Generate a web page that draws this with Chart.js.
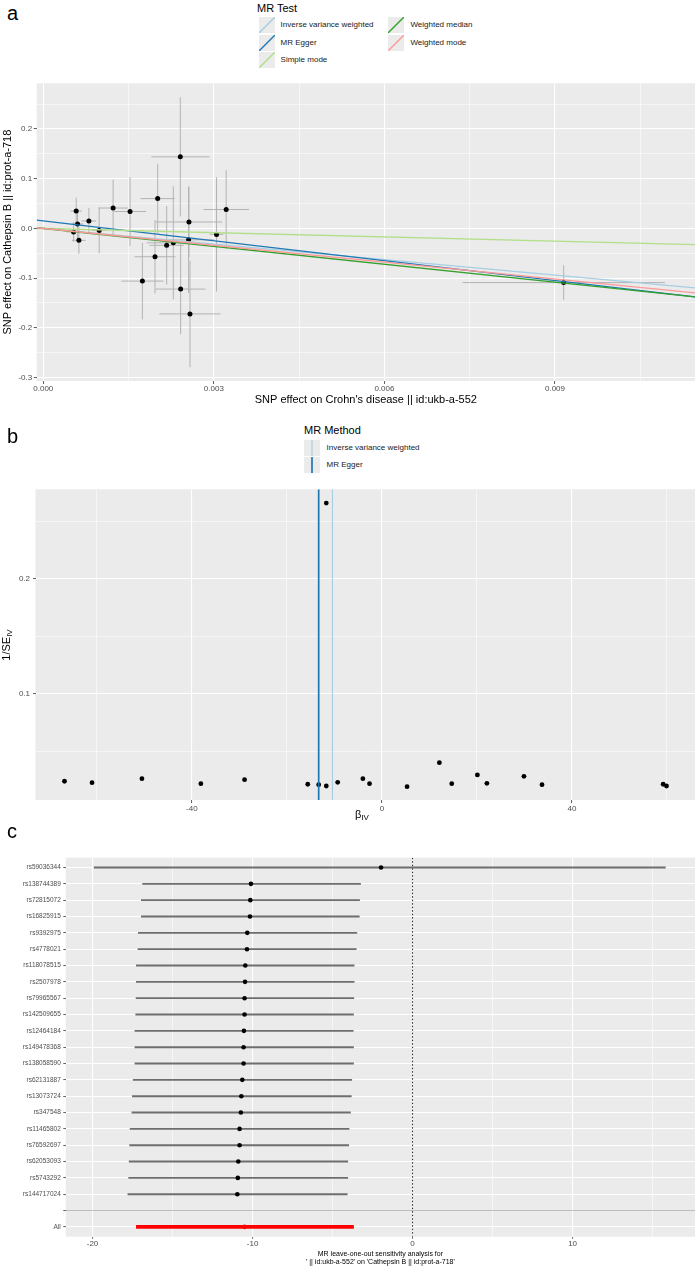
<!DOCTYPE html>
<html>
<head>
<meta charset="utf-8">
<title>MR plots</title>
<script src="https://cdn.jsdelivr.net/npm/chart.js@4.4.1/dist/chart.umd.min.js"></script>
<style>
  body { margin: 0; background: #fff; }
  #page { position: relative; width: 699px; height: 1269px; overflow: hidden; font-family: "Liberation Sans", Arial, sans-serif; color: #000; }
  .box { position: absolute; left: 0; width: 699px; }
  .tag { position: absolute; left: 7px; font-size: 20px; line-height: 20px; }
  .lg-title { position: absolute; font-size: 11px; line-height: 12px; white-space: nowrap; }
  .lg-key { position: absolute; width: 16px; height: 16px; background: #ebebeb; }
  .lg-text { position: absolute; font-size: 8px; line-height: 10px; white-space: nowrap; color: #1a1a1a; }
  .axis-title { position: absolute; font-size: 11px; line-height: 12px; white-space: nowrap; transform: translate(-50%, -50%); }
  .axis-title sub { font-size: 8px; vertical-align: -2px; }
</style>
</head>
<body>
<div id="page">
  <div class="box" style="top:75px;height:338px"><canvas id="scatterChart" width="699" height="338"></canvas></div>
  <div class="box" style="top:481px;height:344px"><canvas id="funnelChart" width="699" height="344"></canvas></div>
  <div class="box" style="top:849px;height:420px"><canvas id="looChart" width="699" height="420"></canvas></div>

  <div class="tag" style="top:3px">a</div>
  <div class="tag" style="top:426px">b</div>
  <div class="tag" style="top:821px">c</div>

  <div class="lg-title" style="left:257px;top:2px">MR Test</div>
  <div id="legendA"></div>
  <div class="lg-title" style="left:304px;top:424px">MR Method</div>
  <div id="legendB"></div>

  <div class="axis-title" style="left:8px;top:645px;transform:translate(-50%,-50%) rotate(-90deg)">1/SE<sub>IV</sub></div>
  <div class="axis-title" style="left:362px;top:816px">β<sub>IV</sub></div>
</div>

<script>
// ---- panel a: SNP effects (exposure vs outcome) ----
const aSnpX = [0.000579, 0.000603, 0.000533, 0.000626, 0.000802, 0.000983, 0.001228, 0.001526, 0.002012, 0.002410, 0.002562,
               0.002556, 0.002170, 0.002287, 0.001965, 0.001743, 0.002416, 0.002580, 0.003047, 0.003217, 0.009153];
const aSnpY = [0.035, 0.009, -0.007, -0.024, 0.015, -0.004, 0.041, 0.034, 0.060, 0.144, 0.013,
               -0.023, -0.034, -0.029, -0.057, -0.106, -0.122, -0.172, -0.012, 0.038, -0.109];
const aSeX = [0.00010, 0.00010, 0.00012, 0.00012, 0.00013, 0.00013, 0.00026, 0.00028, 0.00030, 0.00051, 0.00058,
              0.00045, 0.00030, 0.00047, 0.00036, 0.00037, 0.00044, 0.00054, 0.00012, 0.00040, 0.00178];
const aSeY = [0.027, 0.030, 0.020, 0.027, 0.026, 0.046, 0.057, 0.069, 0.070, 0.120, 0.071,
              0.107, 0.079, 0.114, 0.074, 0.077, 0.091, 0.107, 0.115, 0.079, 0.035];

const aMethods = ['Inverse variance weighted', 'MR Egger', 'Simple mode', 'Weighted median', 'Weighted mode'];
const aSlopes = [-10.45, -13.33, -2.85, -12.0, -11.3];
const aIntercepts = [0, 0.0152, 0, 0, 0];
const aColors = ['#a6cee3', '#1f78b4', '#b2df8a', '#33a02c', '#fb9a99'];

const aXTickValues = [0, 0.003, 0.006, 0.009];
const aXTickLabels = ['0.000', '0.003', '0.006', '0.009'];
const aYTickValues = [-0.3, -0.2, -0.1, 0, 0.1, 0.2];
const aYTickLabels = ['-0.3', '-0.2', '-0.1', '0.0', '0.1', '0.2'];

// ---- panel b: funnel plot ----
const bBeta = [-66.8, -61.0, -50.5, -38.1, -28.9, -15.6, -13.3, -11.7, -9.3, -4.0, -2.6,
               5.3, 12.1, 14.7, 20.1, 22.1, 29.9, 33.7, 59.2, 59.9, -11.7];
const bPrecision = [0.0239, 0.0227, 0.0262, 0.0218, 0.0253, 0.0213, 0.0209, 0.0198, 0.0230, 0.0262, 0.0218,
                    0.0192, 0.0401, 0.0218, 0.0294, 0.0221, 0.0282, 0.0209, 0.0213, 0.0198, 0.266];
const bMethods = ['Inverse variance weighted', 'MR Egger'];
const bEstimates = [-10.4, -13.3];
const bColors = ['#a6cee3', '#1f78b4'];

const bXTickValues = [-40, 0, 40];
const bXTickLabels = ['-40', '0', '40'];
const bYTickValues = [0.1, 0.2];
const bYTickLabels = ['0.1', '0.2'];

// ---- panel c: leave-one-out ----
const cSnps = ['rs59036344', 'rs138744389', 'rs72815072', 'rs16825915', 'rs9392975', 'rs4778021', 'rs118078515',
               'rs2507978', 'rs79965567', 'rs142509655', 'rs12464184', 'rs149478368', 'rs138058590', 'rs62131887',
               'rs13073724', 'rs347548', 'rs11465802', 'rs76592697', 'rs62053093', 'rs5743292', 'rs144717024', '', 'All'];
const cEst = [-1.97, -10.10, -10.14, -10.16, -10.33, -10.35, -10.45, -10.47, -10.50, -10.50, -10.54, -10.56,
              -10.56, -10.64, -10.70, -10.73, -10.81, -10.81, -10.89, -10.92, -10.95, null, -10.50];
const cLo = [-19.9, -16.87, -16.95, -16.95, -17.14, -17.16, -17.26, -17.26, -17.28, -17.30, -17.35, -17.35,
             -17.35, -17.46, -17.51, -17.54, -17.65, -17.68, -17.71, -17.74, -17.79, null, -17.26];
const cHi = [15.8, -3.25, -3.31, -3.33, -3.48, -3.52, -3.65, -3.65, -3.67, -3.69, -3.71, -3.69,
             -3.69, -3.80, -3.83, -3.88, -3.97, -3.99, -4.05, -4.05, -4.08, null, -3.69];
const cXTickValues = [-20, -10, 0, 10];
const cXTickLabels = ['-20', '-10', '0', '10'];
const cNullEffect = 0;

// axis ranges
const aXMin = -0.000116, aXMax = 0.011463, aYMin = -0.307, aYMax = 0.292;
const bXMin = -72.9, bXMax = 65.9, bYMin = 0.0076, bYMax = 0.278;
const cXMin = -21.67, cXMax = 17.65, cYMin = -0.6, cYMax = 22.6;

Chart.defaults.font.family = '"Liberation Sans", Arial, sans-serif';
Chart.defaults.color = '#4d4d4d';

const FONT_TICK = { size: 8 };
const FONT_TITLE = { size: 11 };

function isIn(list, v) {
    return list.some(m => Math.abs(m - v) < 1e-9);
}

function gridOpts(majors, tickLen) {
    return {
        color: '#ffffff',
        lineWidth: c => (c.tick && isIn(majors, c.tick.value)) ? 1.1 : 0.55,
        tickColor: c => (c.tick && isIn(majors, c.tick.value)) ? '#333333' : 'rgba(0,0,0,0)',
        tickWidth: 0.8,
        tickLength: tickLen,
        drawTicks: true
    };
}

function labelFrom(values, labels) {
    return v => {
        const i = values.findIndex(t => Math.abs(t - v) < 1e-9);
        return i < 0 ? '' : labels[i];
    };
}

// grey panel background like ggplot
const panelBg = {
    id: 'panelBg',
    beforeDraw(chart) {
        const { ctx, chartArea: a } = chart;
        ctx.save();
        ctx.fillStyle = '#ebebeb';
        ctx.fillRect(a.left, a.top, a.width, a.height);
        ctx.restore();
    }
};

// error bars for datasets carrying errX / errY
const errorBars = {
    id: 'errorBars',
    beforeDatasetsDraw(chart) {
        const { ctx, chartArea: a, scales: { x, y } } = chart;
        ctx.save();
        ctx.beginPath();
        ctx.rect(a.left, a.top, a.width, a.height);
        ctx.clip();
        ctx.strokeStyle = '#b3b3b3';
        ctx.lineWidth = 1;
        chart.data.datasets.forEach(ds => {
            if (!ds.errX) return;
            ds.data.forEach((p, i) => {
                const px = x.getPixelForValue(p.x);
                const py = y.getPixelForValue(p.y);
                ctx.beginPath();
                ctx.moveTo(x.getPixelForValue(p.x - ds.errX[i]), py);
                ctx.lineTo(x.getPixelForValue(p.x + ds.errX[i]), py);
                ctx.moveTo(px, y.getPixelForValue(p.y - ds.errY[i]));
                ctx.lineTo(px, y.getPixelForValue(p.y + ds.errY[i]));
                ctx.stroke();
            });
        });
        ctx.restore();
    }
};

const baseOptions = {
    responsive: false,
    animation: false,
    events: [],
    plugins: { legend: { display: false }, tooltip: { enabled: false } }
};

// ---------- panel a ----------
new Chart(document.getElementById('scatterChart'), {
    type: 'scatter',
    data: {
        datasets: [
            ...aMethods.map((m, i) => ({
                label: m,
                data: [aXMin, aXMax].map(x => ({ x, y: aIntercepts[i] + aSlopes[i] * x })),
                showLine: true,
                borderColor: aColors[i],
                borderWidth: 1.3,
                pointRadius: 0,
                order: 5 - i
            })),
            {
                label: 'SNPs',
                data: aSnpX.map((x, i) => ({ x, y: aSnpY[i] })),
                errX: aSeX,
                errY: aSeY,
                backgroundColor: '#000',
                borderWidth: 0,
                pointRadius: 2.5,
                order: 10
            }
        ]
    },
    options: {
        ...baseOptions,
        layout: { padding: { top: 8.3, right: 2.3, left: 0, bottom: 0 } },
        scales: {
            x: {
                type: 'linear', min: aXMin, max: aXMax,
                ticks: { stepSize: 0.0015, includeBounds: false, autoSkip: false, maxRotation: 0, padding: 0,
                         font: FONT_TICK, callback: labelFrom(aXTickValues, aXTickLabels) },
                grid: gridOpts(aXTickValues, 3),
                border: { display: false },
                title: { display: true, text: "SNP effect on Crohn's disease || id:ukb-a-552", color: '#000',
                         font: FONT_TITLE, padding: { top: 0, bottom: 6 } },
                afterFit: s => { s.height = 32; }
            },
            y: {
                type: 'linear', min: aYMin, max: aYMax,
                ticks: { stepSize: 0.05, includeBounds: false, autoSkip: false, padding: 1.5,
                         font: FONT_TICK, callback: labelFrom(aYTickValues, aYTickLabels) },
                grid: gridOpts(aYTickValues, 3),
                border: { display: false },
                title: { display: true, text: 'SNP effect on Cathepsin B || id:prot-a-718', color: '#000',
                         font: FONT_TITLE, padding: { top: 1.5, bottom: 0 } },
                afterFit: s => { s.width = 36.7; }
            }
        }
    },
    plugins: [panelBg, errorBars]
});

// ---------- panel b ----------
new Chart(document.getElementById('funnelChart'), {
    type: 'scatter',
    data: {
        datasets: [
            ...bMethods.map((m, i) => ({
                label: m,
                data: [{ x: bEstimates[i], y: bYMin }, { x: bEstimates[i], y: bYMax }],
                showLine: true,
                borderColor: bColors[i],
                borderWidth: i === 1 ? 1.7 : 1.1,
                pointRadius: 0,
                order: 2 - i
            })),
            {
                label: 'SNPs',
                data: bBeta.map((x, i) => ({ x, y: bPrecision[i] })),
                backgroundColor: '#000',
                borderWidth: 0,
                pointRadius: 2.4,
                order: 10
            }
        ]
    },
    options: {
        ...baseOptions,
        layout: { padding: { top: 8.3, right: 3, left: 0, bottom: 0 } },
        scales: {
            x: {
                type: 'linear', min: bXMin, max: bXMax,
                ticks: { stepSize: 20, includeBounds: false, autoSkip: false, maxRotation: 0, padding: 0.5,
                         font: FONT_TICK, callback: labelFrom(bXTickValues, bXTickLabels) },
                grid: gridOpts(bXTickValues, 3),
                border: { display: false },
                afterFit: s => { s.height = 25; }
            },
            y: {
                type: 'linear', min: bYMin, max: bYMax,
                ticks: { stepSize: 0.05, includeBounds: false, autoSkip: false, padding: 3,
                         font: FONT_TICK, callback: labelFrom(bYTickValues, bYTickLabels) },
                grid: gridOpts(bYTickValues, 2.5),
                border: { display: false },
                afterFit: s => { s.width = 35.5; }
            }
        }
    },
    plugins: [panelBg]
});

// ---------- panel c ----------
const cAllRow = cSnps.indexOf('All');
const cBlankRow = cSnps.indexOf('');

new Chart(document.getElementById('looChart'), {
    type: 'scatter',
    data: {
        datasets: [
            {
                type: 'bar',
                label: 'SNP intervals',
                indexAxis: 'y',
                grouped: false,
                data: cSnps.map((s, i) => (cEst[i] === null || i === cAllRow) ? null : { x: [cLo[i], cHi[i]], y: i })
                           .filter(Boolean),
                backgroundColor: '#6e6e6e',
                borderWidth: 0,
                barThickness: 1.2,
                order: 3
            },
            {
                type: 'bar',
                label: 'All interval',
                indexAxis: 'y',
                grouped: false,
                data: [{ x: [cLo[cAllRow], cHi[cAllRow]], y: cAllRow }],
                backgroundColor: '#ff0000',
                borderWidth: 0,
                barThickness: 3,
                order: 2
            },
            {
                label: 'null effect',
                data: [{ x: cNullEffect, y: cYMin }, { x: cNullEffect, y: cYMax }],
                showLine: true,
                borderColor: '#000',
                borderWidth: 0.9,
                borderDash: [1.5, 2],
                pointRadius: 0,
                order: 4
            },
            {
                label: 'estimates',
                data: cSnps.map((s, i) => cEst[i] === null ? null : { x: cEst[i], y: i }).filter(Boolean),
                backgroundColor: c => (c.raw && c.raw.y === cAllRow) ? '#ff0000' : '#000',
                borderWidth: 0,
                pointRadius: 2.3,
                order: 1
            }
        ]
    },
    options: {
        ...baseOptions,
        layout: { padding: { top: 8.7, right: 3.3, left: 0, bottom: 0 } },
        scales: {
            x: {
                type: 'linear', min: cXMin, max: cXMax, offset: false, beginAtZero: false,
                ticks: { stepSize: 5, includeBounds: false, autoSkip: false, maxRotation: 0, padding: 0,
                         font: FONT_TICK, callback: labelFrom(cXTickValues, cXTickLabels) },
                grid: { ...gridOpts(cXTickValues, 2), offset: false },
                border: { display: false },
                title: { display: true,
                         text: ['MR leave-one-out sensitivity analysis for', "' || id:ukb-a-552' on 'Cathepsin B || id:prot-a-718'"],
                         color: '#000', font: { size: 7, lineHeight: 1.2 }, padding: { top: 0, bottom: 2.4 } },
                afterFit: s => { s.height = 32.3; }
            },
            y: {
                type: 'linear', min: cYMin, max: cYMax, reverse: true, offset: false,
                ticks: { stepSize: 1, includeBounds: false, autoSkip: false, padding: 2.5,
                         font: { size: 6.5 }, callback: v => cSnps[v] !== undefined ? cSnps[v] : '' },
                grid: {
                    offset: false,
                    color: c => (c.tick && c.tick.value === cBlankRow) ? '#bdbdbd' : '#ffffff',
                    lineWidth: 1.1,
                    tickColor: '#333333',
                    tickWidth: 0.8,
                    tickLength: 2.5
                },
                border: { display: false },
                afterFit: s => { s.width = 65.8; }
            }
        }
    },
    plugins: [panelBg]
});

// ---------- legends ----------
function keySvg(color, diagonal, width) {
    return diagonal
        ? `<svg width="16" height="16"><line x1="0" y1="16" x2="16" y2="0" stroke="${color}" stroke-width="${width}"/></svg>`
        : `<svg width="16" height="16"><line x1="8" y1="0" x2="8" y2="16" stroke="${color}" stroke-width="${width}"/></svg>`;
}

const legendA = document.getElementById('legendA');
aMethods.forEach((m, i) => {
    const col = i < 3 ? 0 : 1;
    const row = i < 3 ? i : i - 3;
    const left = col === 0 ? 258.6 : 388.4;
    const top = 17.3 + row * 17.35;
    legendA.insertAdjacentHTML('beforeend',
        `<div class="lg-key" style="left:${left}px;top:${top}px">${keySvg(aColors[i], true, 1.4)}</div>` +
        `<div class="lg-text" style="left:${left + 22}px;top:${top + 3}px">${m}</div>`);
});

const legendB = document.getElementById('legendB');
bMethods.forEach((m, i) => {
    const top = 440 + i * 16.5;
    legendB.insertAdjacentHTML('beforeend',
        `<div class="lg-key" style="left:304.3px;top:${top}px">${keySvg(bColors[i], false, i === 1 ? 1.7 : 1.1)}</div>` +
        `<div class="lg-text" style="left:326.6px;top:${top + 3}px">${m}</div>`);
});
</script>
</body>
</html>
